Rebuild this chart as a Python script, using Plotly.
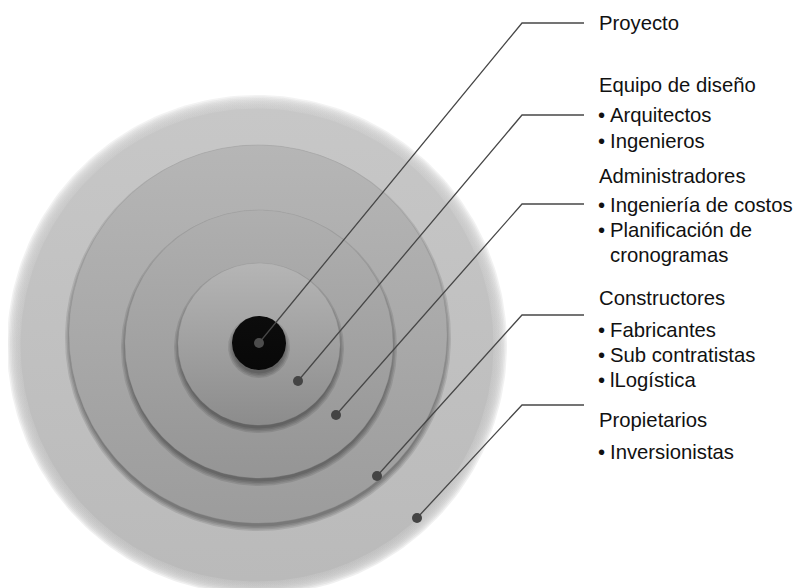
import numpy as np
import plotly.graph_objects as go

# ---------------- data ----------------
groups = ["Proyecto", "Equipo de diseño", "Administradores", "Constructores", "Propietarios"]
items = [
    [],
    ["Arquitectos", "Ingenieros"],
    ["Ingeniería de costos", "Planificación de", "cronogramas"],
    ["Fabricantes", "Sub contratistas", "lLogística"],
    ["Inversionistas"],
]
bulleted = [
    [],
    [True, True],
    [True, True, False],
    [True, True, True],
    [True],
]

# ---------------- layout (pixel geometry) ----------------
W, H = 801, 588
PAGE_OFF = 8  # default page margin of the browser body
# circles: outer -> inner (cx, cy, r)
circles = [
    (257, 345, 243),
    (258, 334, 189),
    (259, 344, 134),
    (259, 344, 81),
    (259, 343, 27),
]
circle_top = ["#c7c7c7", "#b6b6b6", "#afafaf", "#b5b5b5", "#0c0c0c"]
circle_bot = ["#bababa", "#9c9c9c", "#959595", "#8c8c8c", "#080808"]
# leader dots (one per group, same order as groups)
dots = [(259, 343), (298, 381), (336, 415), (377, 476), (417, 518)]
line_y = [23, 115, 204, 315, 405]
corner_x, line_end_x = 522, 584
text_x, indent_x = 597, 608
head_y = [23, 85, 176, 298, 420]
item_y = [[], [115, 141], [205, 230, 255], [330, 355, 380], [452]]

FONT = "Liberation Sans, Arial, sans-serif"
FS = 20.3


def Y(y):
    return H - y


def circ(cx, cy, r, n=241):
    t = np.linspace(0, 2 * np.pi, n)
    return cx + r * np.cos(t), Y(cy) + r * np.sin(t)


def rgba(hexc, a):
    h = hexc.lstrip("#")
    return "rgba(%d,%d,%d,%.3f)" % (int(h[0:2], 16), int(h[2:4], 16), int(h[4:6], 16), a)


fig = go.Figure()


def add_fill(cx, cy, r, color):
    x, y = circ(cx, cy, r)
    fig.add_trace(go.Scatter(x=x, y=y, mode="lines", fill="toself",
                             fillcolor=color, line=dict(width=0),
                             hoverinfo="skip", showlegend=False))


def add_grad(cx, cy, r, top, bot, outline=None):
    x, y = circ(cx, cy, r)
    fig.add_trace(go.Scatter(
        x=x, y=y, mode="lines", fill="toself",
        fillgradient=dict(type="vertical", colorscale=[[0, bot], [1, top]],
                          start=Y(cy + r), stop=Y(cy - r)),
        line=dict(width=0.7 if outline else 0, color=outline or "rgba(0,0,0,0)"),
        hoverinfo="skip", showlegend=False))


# outer circle with soft (blurred) edge
cx, cy, r = circles[0]
for dr in [7, 5.5, 4, 2.5, 1, -0.5, -2, -3.5, -5]:
    add_grad(cx, cy, r + dr, rgba(circle_top[0], 0.22), rgba(circle_bot[0], 0.22))
add_grad(cx, cy, r - 6.5, circle_top[0], circle_bot[0])

# inner circles with drop shadow
for i in range(1, len(circles)):
    cx, cy, r = circles[i]
    for dr in [4, 2.5, 1, -0.5]:
        add_fill(cx, cy + 4, r + dr, "rgba(0,0,0,0.10)")
    add_grad(cx, cy, r, circle_top[i], circle_bot[i],
             outline="rgba(150,150,150,0.5)" if i < 4 else None)

# leader lines
for k in range(len(groups)):
    dx, dy = dots[k]
    fig.add_trace(go.Scatter(
        x=[dx, corner_x, line_end_x], y=[Y(dy), Y(line_y[k]), Y(line_y[k])],
        mode="lines", line=dict(color="#474747", width=1.3),
        hoverinfo="skip", showlegend=False))
fig.add_trace(go.Scatter(
    x=[d[0] for d in dots], y=[Y(d[1]) for d in dots], mode="markers",
    marker=dict(size=10, color=["#4d4d4d"] + ["#444444"] * 4, line=dict(width=0)),
    hoverinfo="skip", showlegend=False))

# texts
annotations = []
for k, g in enumerate(groups):
    annotations.append(dict(x=text_x, y=Y(head_y[k]), text=g, xanchor="left",
                            yanchor="middle", showarrow=False,
                            font=dict(family=FONT, size=FS, color="#111111")))
    for j, it in enumerate(items[k]):
        if bulleted[k][j]:
            annotations.append(dict(x=text_x - 1, y=Y(item_y[k][j]), text="•",
                                    xanchor="left", yanchor="middle", showarrow=False,
                                    font=dict(family=FONT, size=FS, color="#111111")))
        annotations.append(dict(x=indent_x, y=Y(item_y[k][j]), text=it,
                                xanchor="left", yanchor="middle", showarrow=False,
                                font=dict(family=FONT, size=FS, color="#111111")))

fig.update_layout(
    width=W, height=H, margin=dict(l=0, r=0, t=0, b=0),
    paper_bgcolor="white", plot_bgcolor="white",
    xaxis=dict(range=[PAGE_OFF, W + PAGE_OFF], visible=False, fixedrange=True),
    yaxis=dict(range=[-PAGE_OFF, H - PAGE_OFF], visible=False, fixedrange=True),
    annotations=annotations, showlegend=False,
)

fig.write_html("out.html")
